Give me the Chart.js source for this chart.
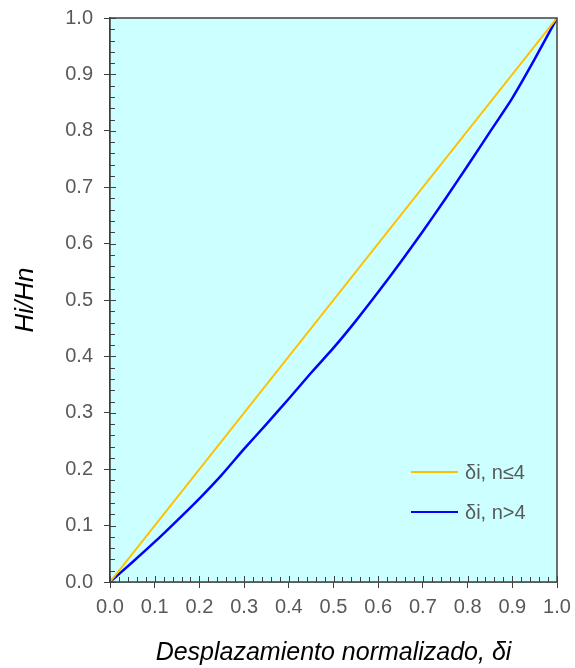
<!DOCTYPE html>
<html>
<head>
<meta charset="utf-8">
<script src="https://cdn.jsdelivr.net/npm/chart.js@4"></script>
<style>
  html, body { margin: 0; padding: 0; background: #fff; }
  #wrap { width: 575px; height: 668px; }
</style>
</head>
<body>
<div id="wrap"><canvas id="chart" width="575" height="668"></canvas></div>
<script>
// data
const xLinear = [0, 1];
const yLinear = [0, 1];

const xCurve = [0, 0.05, 0.1, 0.15, 0.2, 0.25, 0.3, 0.35, 0.4, 0.45, 0.5,
                0.55, 0.6, 0.65, 0.7, 0.75, 0.8, 0.85, 0.9, 0.95, 1.0];
const yCurve = [0, 0.035, 0.071, 0.109, 0.148, 0.190, 0.236, 0.280, 0.325, 0.371, 0.415,
                0.463, 0.514, 0.567, 0.622, 0.679, 0.738, 0.798, 0.858, 0.927, 1.0];

const seriesLabels = ['δi, n≤4', 'δi, n>4'];
const seriesColors = ['#ffc000', '#0000ff'];

const FONT = '"Liberation Sans", Arial, sans-serif';
const gray = '#595959';
const frame = '#404040';

function toPoints(xs, ys) {
  return xs.map((x, i) => ({ x: x, y: ys[i] }));
}

// fill, frame, minor ticks and legend inside the plot
const plotDecor = {
  id: 'plotDecor',
  beforeDatasetsDraw(chart) {
    const { ctx, chartArea: a } = chart;
    ctx.save();
    ctx.fillStyle = '#ccffff';
    ctx.fillRect(a.left, a.top, a.right - a.left, a.bottom - a.top);
    ctx.restore();
  },
  afterDatasetsDraw(chart) {
    const { ctx, chartArea: a, scales } = chart;
    ctx.save();
    ctx.strokeStyle = frame;
    ctx.lineWidth = 1.5;
    ctx.strokeRect(a.left, a.top, a.right - a.left, a.bottom - a.top);

    ctx.lineWidth = 1;
    ctx.beginPath();
    for (let i = 0; i <= 50; i++) {
      const v = i / 50;
      const len = (i % 5 === 0) ? 6 : 5;
      const px = Math.round(scales.x.getPixelForValue(v)) + 0.5;
      ctx.moveTo(px, a.bottom);
      ctx.lineTo(px, a.bottom - len);
      const py = Math.round(scales.y.getPixelForValue(v)) + 0.5;
      ctx.moveTo(a.left, py);
      ctx.lineTo(a.left + len, py);
    }
    ctx.stroke();

    // legend
    const lx = 411, ly = [472, 512];
    ctx.font = '20px ' + FONT;
    ctx.textBaseline = 'middle';
    ctx.fillStyle = gray;
    seriesLabels.forEach((lab, i) => {
      ctx.strokeStyle = seriesColors[i];
      ctx.lineWidth = 2;
      ctx.beginPath();
      ctx.moveTo(lx, ly[i]);
      ctx.lineTo(lx + 47, ly[i]);
      ctx.stroke();
      ctx.fillText(lab, lx + 54, ly[i] + 1);
    });
    ctx.restore();
  }
};

new Chart(document.getElementById('chart'), {
  type: 'scatter',
  data: {
    datasets: [
      {
        label: seriesLabels[0],
        data: toPoints(xLinear, yLinear),
        showLine: true,
        borderColor: seriesColors[0],
        borderWidth: 2,
        pointRadius: 0,
        tension: 0
      },
      {
        label: seriesLabels[1],
        data: toPoints(xCurve, yCurve),
        showLine: true,
        borderColor: seriesColors[1],
        borderWidth: 2.5,
        pointRadius: 0,
        tension: 0.2
      }
    ]
  },
  options: {
    responsive: false,
    animation: false,
    layout: { padding: { left: 0, right: 18, top: 18, bottom: 0 } },
    plugins: {
      legend: { display: false },
      tooltip: { enabled: false }
    },
    scales: {
      x: {
        type: 'linear',
        min: 0, max: 1,
        afterFit(s) { s.height = 86; s.paddingLeft = 0; s.paddingRight = 0; },
        border: { display: true, color: frame, width: 1.5 },
        grid: { drawOnChartArea: false, drawTicks: true, tickLength: 6, color: frame },
        ticks: {
          stepSize: 0.1,
          padding: 7,
          color: gray,
          font: { family: FONT, size: 20 },
          maxRotation: 0,
          callback: v => v.toFixed(1)
        },
        title: {
          display: true,
          text: 'Desplazamiento normalizado, δi',
          color: '#000',
          font: { family: FONT, size: 25, style: 'italic' },
          padding: { top: 12, bottom: 0 }
        }
      },
      y: {
        type: 'linear',
        min: 0, max: 1,
        afterFit(s) { s.width = 110; s.paddingTop = 0; s.paddingBottom = 0; },
        border: { display: true, color: frame, width: 1.5 },
        grid: { drawOnChartArea: false, drawTicks: true, tickLength: 6, color: frame },
        ticks: {
          stepSize: 0.1,
          padding: 11,
          color: gray,
          font: { family: FONT, size: 20 },
          callback: v => v.toFixed(1)
        },
        title: {
          display: true,
          text: 'Hi/Hn',
          color: '#000',
          font: { family: FONT, size: 26, style: 'italic' },
          padding: { top: 10, bottom: 0 }
        }
      }
    }
  },
  plugins: [plotDecor]
});
</script>
</body>
</html>
